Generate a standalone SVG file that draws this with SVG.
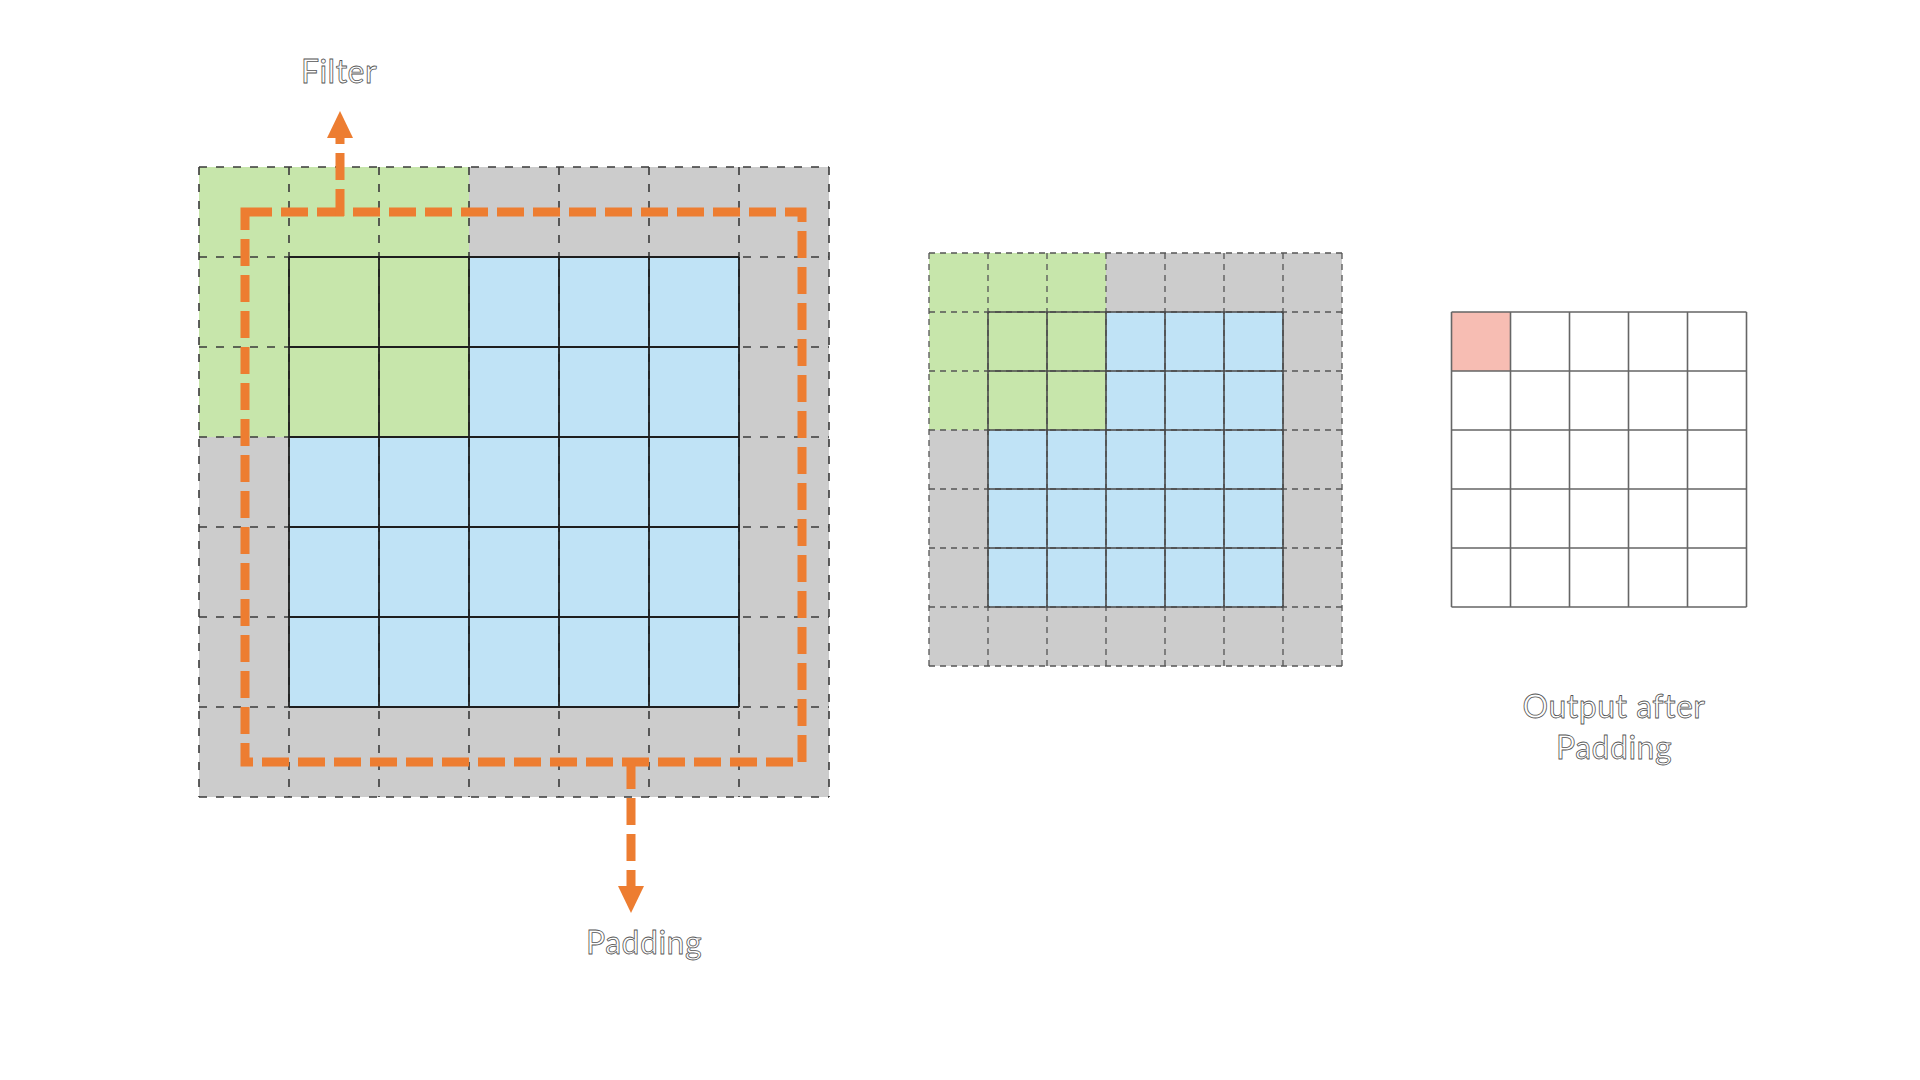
<svg xmlns="http://www.w3.org/2000/svg" width="1920" height="1080" viewBox="0 0 1920 1080">
<style>
.gray{fill:#cccccc}
.green{fill:#c7e6ab}
.blue{fill:#c0e3f6}
.dashL{stroke:#3a3a3a;stroke-width:1.6;stroke-dasharray:8 9;fill:none}
.dashM{stroke:#555;stroke-width:1.3;stroke-dasharray:6 5;fill:none}
.solidL{stroke:#1e1e1e;stroke-width:1.8;fill:none}
.solidM{stroke:#4a4a4a;stroke-width:1.6;fill:none}
.outGrid{stroke:#666;stroke-width:1.6;fill:none}
.label{font-family:Lato,"Open Sans",sans-serif;font-size:32px;fill:#ffffff;stroke:#555555;stroke-width:0.8;text-anchor:middle;letter-spacing:0.5px}
.orange{stroke:#ed7d31;stroke-width:9;fill:none;stroke-dasharray:27 9}
.head{fill:#ed7d31}
</style>
<rect width="1920" height="1080" fill="#ffffff"/>

<g id="input-grid">
<rect class="gray" x="199" y="167" width="630" height="630"/>
<rect class="green" x="199" y="167" width="270" height="270"/>
<rect class="blue" x="289" y="257" width="450" height="450"/>
<rect class="green" x="289" y="257" width="180" height="180"/>
<path class="dashL" d="M199 167V797M289 167V797M379 167V797M469 167V797M559 167V797M649 167V797M739 167V797M829 167V797M199 167H829M199 257H829M199 347H829M199 437H829M199 527H829M199 617H829M199 707H829M199 797H829"/>
<path class="solidL" d="M289 257V707M379 257V707M469 257V707M559 257V707M649 257V707M739 257V707M289 257H739M289 347H739M289 437H739M289 527H739M289 617H739M289 707H739"/>
</g>

<g id="padded-grid">
<rect class="gray" x="929" y="253" width="413" height="413"/>
<rect class="green" x="929" y="253" width="177" height="177"/>
<rect class="blue" x="988" y="312" width="295" height="295"/>
<rect class="green" x="988" y="312" width="118" height="118"/>
<path class="dashM" d="M929 253V666M988 253V666M1047 253V666M1106 253V666M1165 253V666M1224 253V666M1283 253V666M1342 253V666M929 253H1342M929 312H1342M929 371H1342M929 430H1342M929 489H1342M929 548H1342M929 607H1342M929 666H1342"/>
<path class="solidM" d="M988 312V607M1047 312V607M1106 312V607M1165 312V607M1224 312V607M1283 312V607M988 312H1283M988 371H1283M988 430H1283M988 489H1283M988 548H1283M988 607H1283"/>
</g>

<g id="output-grid">
<rect x="1451.5" y="312" width="59" height="59" fill="#f7bdb3"/>
<path class="outGrid" d="M1451.5 312V607M1510.5 312V607M1569.5 312V607M1628.5 312V607M1687.5 312V607M1746.5 312V607M1451.5 312H1746.5M1451.5 371H1746.5M1451.5 430H1746.5M1451.5 489H1746.5M1451.5 548H1746.5M1451.5 607H1746.5"/>
</g>

<g id="label-filter"><text class="label" x="339" y="83">Filter</text></g>
<g id="label-padding"><text class="label" x="644" y="954">Padding</text></g>
<g id="label-output"><text class="label" x="1614" y="718">Output after</text><text class="label" x="1614" y="759">Padding</text></g>

<g id="connectors">
<path class="orange" d="M245 212H802V762H245Z"/>
<path class="orange" d="M340 216V138"/>
<polygon class="head" points="340,111 327,138 353,138"/>
<path class="orange" d="M631 762V886"/>
<polygon class="head" points="631,913 618,886 644,886"/>
</g>
</svg>
